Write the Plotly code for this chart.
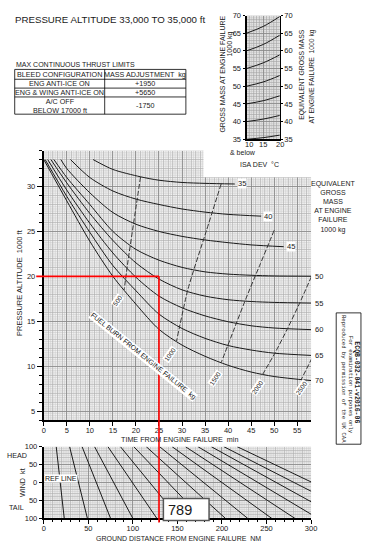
import plotly.graph_objects as go

# ---------------- data ----------------
MASS_LABELS = [35, 40, 45, 50, 55, 60, 65, 70]

T35 = [10.7, 15, 21, 25, 30, 35, 41.45]
A35 = [33, 31.9, 31.08, 30.7, 30.45, 30.35, 30.28]
T40 = [5.8, 10, 15, 20, 25, 30, 35, 40, 47.17]
A40 = [33, 31.0, 29.5, 28.6, 28.0, 27.5, 27.15, 26.9, 26.7]
T45 = [3.7, 5, 10, 15, 20, 25, 30, 35, 40, 45, 52.06]
A45 = [33, 32.0, 29.3, 27.1, 25.8, 25.0, 24.45, 24.05, 23.75, 23.5, 23.3]
T50 = [2.2, 5, 10, 15, 20, 25, 30, 35, 40, 45, 50, 58]
A50 = [33, 31.0, 28.0, 25.0, 23.0, 21.8, 21.0, 20.5, 20.25, 20.12, 20.05, 20.02]
T55 = [1.55, 5, 10, 15, 20, 25, 30, 35, 40, 45, 50, 58]
A55 = [33, 30.4, 27.0, 24.0, 21.5, 19.7, 18.5, 17.8, 17.4, 17.2, 17.1, 17.03]
T60 = [0.85, 5, 10, 15, 20, 25, 30, 35, 40, 45, 50, 58]
A60 = [33, 29.6, 25.9, 22.6, 19.9, 17.8, 16.5, 15.6, 14.95, 14.5, 14.25, 14.07]
T65 = [0.3, 5, 10, 15, 20, 25, 30, 35, 40, 45, 50, 58]
A65 = [33, 28.9, 24.9, 21.2, 18.4, 15.8, 14.2, 13.1, 12.3, 11.8, 11.45, 11.2]
T70 = [0, 5, 10, 15, 20, 25, 30, 35, 40, 45, 50, 58]
A70 = [33, 28.4, 23.9, 20.0, 16.9, 14.1, 12.35, 11.1, 10.1, 9.35, 8.85, 8.4]

FUEL_LABELS = [500, 1000, 1500, 2000, 2500]
F500_T = [21.0, 20.1, 19.2, 18.3, 17.45]
F500_A = [31.08, 28.0, 24.9, 21.8, 18.5]
F1000_T = [38.5, 35.3, 31.3, 28.8]
F1000_A = [30.3, 25.1, 18.6, 12.77]
F1500_T = [50.0, 47.0, 44.0, 41.2, 38.5]
F1500_A = [25.13, 21.4, 17.7, 14.0, 10.4]
F2000_T = [58.1, 55.5, 52.9, 50.2, 47.5]
F2000_A = [20.0, 17.0, 14.2, 11.5, 9.1]
F2500_T = [58.2, 55.9]
F2500_A = [10.9, 8.55]
FUEL_LABEL_T = [16.0, 27.4, 37.2, 46.3, 56.0]
FUEL_LABEL_A = [17.3, 11.26, 8.6, 7.65, 7.6]

TIME_TICKS = [0, 5, 10, 15, 20, 25, 30, 35, 40, 45, 50, 55]
ALT_TICKS = [5, 10, 15, 20, 25, 30]

# wind correction: ground distance at 100 kt headwind (top) and 100 kt tailwind (bottom)
WIND_HEAD_NM = [14, 29, 43, 57, 72, 86, 101, 115, 130, 144, 159, 173, 188, 202, 217]
WIND_TAIL_NM = [23, 49, 75, 100, 127, 152, 178, 204, 229, 256, 282, 308, 334, 360, 386]
WIND_TICKS = [100, 50, 0, -50, -100]
WIND_TICK_TEXT = ["100", "50", "0", "50", "100"]
DIST_TICKS = [0, 50, 100, 150, 200, 250, 300]

# ISA deviation inset
ISA_DEV = [10, 15, 20]
GM_START = [35, 40, 45, 50, 55, 60, 65]
GM_MID = [35.45, 40.7, 45.9, 51.2, 56.6, 61.8, 66.9]
GM_END = [36.17, 41.74, 47.3, 53.03, 58.87, 64.44, 69.72]
ISA_TICKS = [10, 15, 20]
GM_TICKS = [35, 40, 45, 50, 55, 60, 65, 70]

# worked example
RED_TIME = 25.0
RED_ALT = 20.0
ANSWER = "789"

BLEED_ROWS = ["ENG ANTI-ICE ON", "ENG & WING ANTI-ICE ON", "A/C OFF<br>BELOW 17000 ft"]
BLEED_ADJ = ["+1950", "+5650", "-1750"]

# ---------------- layout geometry (pixels) ----------------
FW, FH = 365, 552
MX0, MX1 = 42.7, 316.0
MY_TOP, MY_BOT = 149.0, 423.0
WY_TOP, WY_BOT = 450.0, 523.0
IX0, IX1 = 250.0, 284.0
IY_TOP, IY_BOT = 11.7, 137.5
T_RANGE = [0, 58]
A_RANGE = [4, 34]
D_RANGE = [0, 300]
W_RANGE = [-100, 100]
I_RANGE = [10, 20]
G_RANGE = [35, 70]

FONT = "Liberation Sans, Arial, sans-serif"
INK = "#1a1a1a"


def X(px):
    return px / FW


def Y(py):
    return 1 - py / FH


fig = go.Figure()

line_style = dict(color=INK, width=1, shape="spline", smoothing=0.8)
curves = [(T35, A35), (T40, A40), (T45, A45), (T50, A50),
          (T55, A55), (T60, A60), (T65, A65), (T70, A70)]
for (t, a), m in zip(curves, MASS_LABELS):
    fig.add_trace(go.Scatter(x=t, y=a, mode="lines", line=line_style,
                             name=f"{m} t", hoverinfo="skip", xaxis="x", yaxis="y"))

fuel = [(F500_T, F500_A), (F1000_T, F1000_A), (F1500_T, F1500_A),
        (F2000_T, F2000_A), (F2500_T, F2500_A)]
for (t, a), f in zip(fuel, FUEL_LABELS):
    fig.add_trace(go.Scatter(x=t, y=a, mode="lines",
                             line=dict(color="#333333", width=1, dash="5px,2px",
                                       shape="spline", smoothing=0.6),
                             name=f"{f} kg", hoverinfo="skip", xaxis="x", yaxis="y"))

for h, tl in zip(WIND_HEAD_NM, WIND_TAIL_NM):
    fig.add_trace(go.Scatter(x=[h, tl], y=[W_RANGE[1], W_RANGE[0]], mode="lines",
                             line=dict(color=INK, width=1), hoverinfo="skip",
                             xaxis="x2", yaxis="y2"))

for s, m, e in zip(GM_START, GM_MID, GM_END):
    fig.add_trace(go.Scatter(x=ISA_DEV, y=[s, m, e], mode="lines",
                             line=dict(color=INK, width=1, shape="spline"),
                             hoverinfo="skip", xaxis="x3", yaxis="y3"))
# anchor trace for the right-hand inset axis
fig.add_trace(go.Scatter(x=[ISA_DEV[0]], y=[GM_START[0]], mode="markers",
                         marker=dict(opacity=0), hoverinfo="skip", xaxis="x3", yaxis="y4"))

# ---------------- axes ----------------
tickfont = dict(size=7.5, color=INK, family=FONT)
common = dict(zeroline=False, showline=True, linecolor="black", ticks="outside",
              tickcolor="black", tickwidth=1, tickfont=tickfont, fixedrange=True)

fig.update_layout(
    xaxis=dict(domain=[X(MX0), X(MX1)], range=T_RANGE, anchor="y",
               tickmode="array", tickvals=TIME_TICKS, ticklen=4, linewidth=2,
               ticklabelstandoff=-2,
               showgrid=True, gridcolor="#8a8a8a", gridwidth=0.8,
               minor=dict(tickmode="linear", tick0=0, dtick=1, showgrid=True,
                          gridcolor="#adadad", gridwidth=0.5, ticks=""),
               **common),
    yaxis=dict(domain=[Y(MY_BOT), Y(MY_TOP)], range=A_RANGE, anchor="x",
               tickmode="array", tickvals=ALT_TICKS, ticklen=5, linewidth=2,
               showgrid=True, gridcolor="#8a8a8a", gridwidth=0.8,
               minor=dict(tickmode="linear", tick0=0, dtick=1, showgrid=True,
                          gridcolor="#adadad", gridwidth=0.5, ticks="outside",
                          ticklen=3, tickcolor="black"),
               **common),
    xaxis2=dict(domain=[X(MX0), X(MX1)], range=D_RANGE, anchor="y2",
                tickmode="array", tickvals=DIST_TICKS, ticklen=4, linewidth=2,
                ticklabelstandoff=-2,
                showgrid=True, gridcolor="#8a8a8a", gridwidth=0.8,
                minor=dict(tickmode="linear", tick0=0, dtick=10, showgrid=True,
                           gridcolor="#adadad", gridwidth=0.5, ticks="outside",
                           ticklen=2, tickcolor="black"),
                **common),
    yaxis2=dict(domain=[Y(WY_BOT), Y(WY_TOP)], range=W_RANGE, anchor="x2",
                tickmode="array", tickvals=WIND_TICKS, ticktext=WIND_TICK_TEXT,
                ticklen=3, linewidth=2,
                showgrid=True, gridcolor="#8a8a8a", gridwidth=0.8,
                minor=dict(tickmode="linear", tick0=0, dtick=10, showgrid=True,
                           gridcolor="#adadad", gridwidth=0.5, ticks=""),
                **common),
    xaxis3=dict(domain=[X(IX0), X(IX1)], range=I_RANGE, anchor="y3",
                tickmode="array", tickvals=ISA_TICKS, ticklen=0, linewidth=1.5,
                showticklabels=False,
                showgrid=True, gridcolor="#8a8a8a", gridwidth=0.8,
                minor=dict(tickmode="linear", tick0=10, dtick=1, showgrid=True,
                           gridcolor="#a4a4a4", gridwidth=0.5, ticks=""),
                **common),
    yaxis3=dict(domain=[Y(IY_BOT), Y(IY_TOP)], range=G_RANGE, anchor="x3",
                tickmode="array", tickvals=GM_TICKS, ticklen=2, linewidth=2,
                showgrid=True, gridcolor="#8a8a8a", gridwidth=0.8,
                minor=dict(tickmode="linear", tick0=35, dtick=1, showgrid=True,
                           gridcolor="#a4a4a4", gridwidth=0.5, ticks=""),
                **common),
    yaxis4=dict(range=G_RANGE, anchor="x3", overlaying="y3", side="right",
                tickmode="array", tickvals=GM_TICKS, ticklen=2, linewidth=1,
                showgrid=False, **common),
)

# ---------------- fine background mesh ----------------
shapes = []


def mesh(xref, yref, xr, xstep, yr, ystep, color):
    n = int(round((xr[1] - xr[0]) / xstep))
    for i in range(n + 1):
        v = xr[0] + i * xstep
        shapes.append(dict(type="line", xref=xref, yref=yref, x0=v, x1=v, y0=yr[0], y1=yr[1],
                           line=dict(color=color, width=0.5), layer="below"))
    n = int(round((yr[1] - yr[0]) / ystep))
    for i in range(n + 1):
        v = yr[0] + i * ystep
        shapes.append(dict(type="line", xref=xref, yref=yref, x0=xr[0], x1=xr[1], y0=v, y1=v,
                           line=dict(color=color, width=0.5), layer="below"))


mesh("x", "y", T_RANGE, 0.5, A_RANGE, 0.25, "#c6c6c6")
mesh("x2", "y2", D_RANGE, 2.5, W_RANGE, 5, "#c6c6c6")
mesh("x3", "y3", I_RANGE, 0.5, G_RANGE, 0.5, "#bdbdbd")

# blank corner of the main grid under the inset
shapes.append(dict(type="rect", xref="paper", yref="paper", x0=X(206), x1=X(320),
                   y0=Y(176), y1=Y(146), fillcolor="white", line=dict(width=0), layer="above"))

# worked-example red lines
main_y_paper = Y(MY_BOT) + (RED_ALT - A_RANGE[0]) / (A_RANGE[1] - A_RANGE[0]) * (Y(MY_TOP) - Y(MY_BOT))
red_x_paper = X(MX0) + (RED_TIME - T_RANGE[0]) / (T_RANGE[1] - T_RANGE[0]) * (X(MX1) - X(MX0))
shapes.append(dict(type="line", xref="paper", yref="paper", x0=X(35), x1=red_x_paper,
                   y0=main_y_paper, y1=main_y_paper, line=dict(color="#ff0000", width=1.6),
                   layer="above"))
shapes.append(dict(type="line", xref="paper", yref="paper", x0=red_x_paper, x1=red_x_paper,
                   y0=main_y_paper, y1=Y(527), line=dict(color="#ff0000", width=1.6),
                   layer="above"))
# answer box
shapes.append(dict(type="rect", xref="paper", yref="paper", x0=X(165), x1=X(211.7),
                   y0=Y(525), y1=Y(502.7), fillcolor="white",
                   line=dict(color="#555555", width=1.5), layer="above"))

# bleed table
TL, TR, TC = 13, 188, 105
TROWS = [66.5, 76.5, 85.5, 94.5, 112]
shapes.append(dict(type="rect", xref="paper", yref="paper", x0=X(TL), x1=X(TR),
                   y0=Y(TROWS[-1]), y1=Y(TROWS[0]), line=dict(color="black", width=0.8)))
for r in TROWS[1:-1]:
    shapes.append(dict(type="line", xref="paper", yref="paper", x0=X(TL), x1=X(TR),
                       y0=Y(r), y1=Y(r), line=dict(color="black", width=0.8)))
shapes.append(dict(type="line", xref="paper", yref="paper", x0=X(TC), x1=X(TC),
                   y0=Y(TROWS[-1]), y1=Y(TROWS[0]), line=dict(color="black", width=0.8)))

# copyright box on the right
shapes.append(dict(type="rect", xref="paper", yref="paper", x0=X(341.7), x1=X(367),
                   y0=Y(447.5), y1=Y(314), line=dict(color="black", width=0.8),
                   fillcolor="white"))

# ---------------- text ----------------
ann = []


def txt(text, px, py, size, xanchor="center", yanchor="middle", angle=0, **kw):
    d = dict(xref="paper", yref="paper", x=X(px), y=Y(py), text=text, showarrow=False,
             font=dict(size=size, color=kw.pop("color", INK), family=kw.pop("family", FONT)),
             xanchor=xanchor, yanchor=yanchor, textangle=angle)
    d.update(kw)
    ann.append(d)


txt("PRESSURE ALTITUDE 33,000 TO 35,000 ft", 11.7, 16, 9.7, xanchor="left")
txt("MAX CONTINUOUS THRUST LIMITS", 12.7, 61, 7, xanchor="left")
cx1, cx2 = (TL + TC) / 2, (TC + TR) / 2
txt("BLEED CONFIGURATION", cx1, (TROWS[0] + TROWS[1]) / 2, 7.2)
txt("MASS ADJUSTMENT\u00a0 kg", cx2, (TROWS[0] + TROWS[1]) / 2, 7.2)
for i, (row, adj) in enumerate(zip(BLEED_ROWS, BLEED_ADJ)):
    yc = (TROWS[i + 1] + TROWS[i + 2]) / 2
    txt(row, cx1, yc, 7.2)
    txt(adj, cx2, yc, 7.2)

# inset titles and x tick labels
txt("GROSS MASS AT ENGINE FAILURE", 225, 71.7, 7, angle=-90)
txt("1000 kg", 233.3, 41, 7, angle=-90)
txt("EQUIVALENT GROSS MASS", 306.7, 72, 6.8, angle=-90)
txt("AT ENGINE FAILURE\u00a0 1000 kg", 316.7, 74, 6.8, angle=-90)
isa_px = [IX0 + (v - I_RANGE[0]) / (I_RANGE[1] - I_RANGE[0]) * (IX1 - IX0) for v in ISA_TICKS]
for v, p in zip(ISA_TICKS, isa_px):
    txt(str(v), p + (2.5 if v == I_RANGE[0] else 0), 143, 7.5)
txt("&amp; below", 246.7, 151, 7)
txt("ISA DEV\u00a0 \u00b0C", 263.3, 163.3, 7)

# main chart titles
txt("PRESSURE ALTITUDE\u00a0 1000 ft", 18, 283, 7.5, angle=-90)
txt("TIME FROM ENGINE FAILURE\u00a0 min", 181.5, 442.3, 7.2)
txt("EQUIVALENT<br>GROSS<br>MASS<br>AT ENGINE<br>FAILURE<br>1000 kg", 338.5, 206.7, 7)

# curve-end mass labels
curve_ends = [(t[-1], a[-1]) for t, a in curves]
for (te, ae), m in zip(curve_ends, MASS_LABELS):
    inside = te < T_RANGE[1] - 1
    ann.append(dict(xref="x", yref="y", x=min(te, T_RANGE[1]), y=ae, text=str(m),
                    showarrow=False, xanchor="left", yanchor="middle",
                    xshift=2 if inside else 3,
                    font=dict(size=7.5, color=INK, family=FONT),
                    bgcolor="white" if inside else None, borderpad=0))

# fuel burn labels
for t, a, f in zip(FUEL_LABEL_T, FUEL_LABEL_A, FUEL_LABELS):
    ann.append(dict(xref="x", yref="y", x=t, y=a, text=str(f), showarrow=False,
                    textangle=-55, font=dict(size=6.5, color=INK, family=FONT),
                    bgcolor="white", borderpad=0))
txt("FUEL BURN FROM ENGINE FAILURE\u00a0 kg", 144.2, 357.5, 7, angle=39,
    bgcolor="white", borderpad=0)

# wind chart
txt("HEAD", 15, 459.3, 7.2)
txt("TAIL", 15, 511.7, 7.2)
txt("WIND\u00a0 kt", 20.5, 487, 7.2, angle=-90)
txt("REF LINE", 60.5, 482.5, 7, bgcolor="white", borderpad=0)
txt("GROUND DISTANCE FROM ENGINE FAILURE\u00a0 NM", 180, 543, 7)

# answer
txt(ANSWER, 167.5, 514, 14.5, xanchor="left")

# copyright
txt("<b>ECQB-032-041-v2016-06</b>", 362.3, 385, 6.5, angle=90,
    family="Liberation Mono, monospace")
txt("For examination purposes only", 355.7, 387, 5.6, angle=90,
    family="Liberation Mono, monospace")
txt("Reproduced by permission of the UK CAA", 348.5, 381, 5.6, angle=90,
    family="Liberation Mono, monospace")

fig.update_layout(
    width=FW, height=FH, autosize=False,
    margin=dict(l=0, r=0, t=0, b=0, pad=0),
    paper_bgcolor="white", plot_bgcolor="#f2f2f2",
    showlegend=False,
    font=dict(family=FONT, color=INK, size=7.5),
    shapes=shapes, annotations=ann,
)

fig.write_html("out.html", include_plotlyjs=True, full_html=True,
               config={"displayModeBar": False, "staticPlot": True},
               post_script="document.body.style.margin='0';document.body.style.overflow='hidden';")
